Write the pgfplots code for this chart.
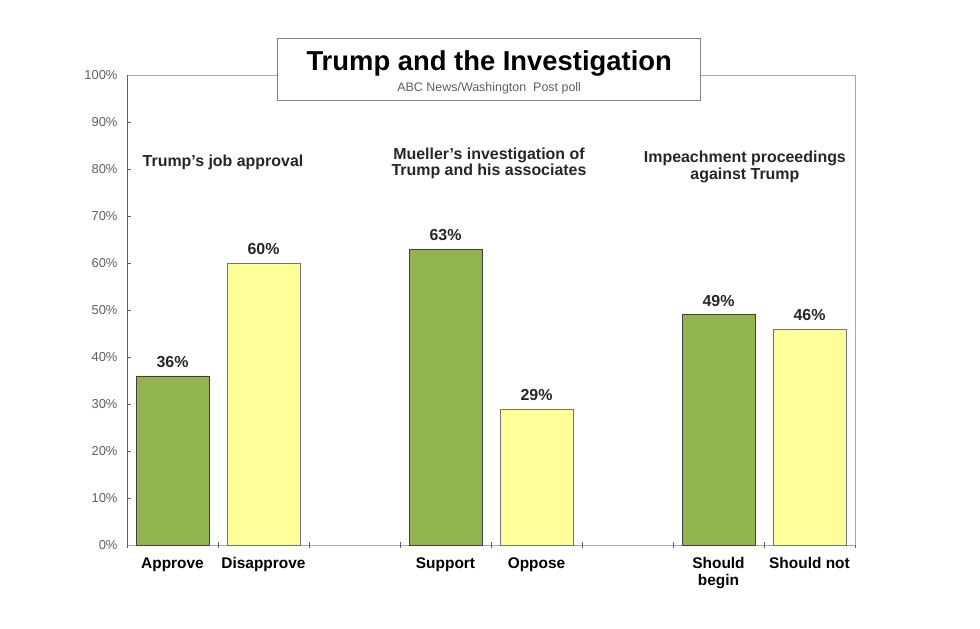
\documentclass[border=0pt]{standalone}
\usepackage{pgfplots}
\pgfplotsset{compat=1.18}
\usepackage{fontspec}
\setmainfont{Liberation Sans}
\definecolor{barGreen}{RGB}{146,180,80}
\definecolor{barYellow}{RGB}{255,255,153}
\definecolor{tickGray}{RGB}{95,95,95}
\begin{document}
\begin{tikzpicture}
\path[use as bounding box] (-127bp,-84bp) rectangle (853bp,545bp);
\begin{axis}[
    at={(0,0)}, anchor=south west,
    scale only axis,
    width=728bp, height=470bp,
    xmin=-0.5, xmax=7.5,
    ymin=0, ymax=100,
    ybar, bar width=0.8, bar shift=0pt,
    axis line style={draw=gray!70},
    axis y line*=left,
    axis x line*=bottom,
    clip=false,
    ytick={0,10,...,100},
    yticklabel={\pgfmathprintnumber{\tick}\%},
    yticklabel style={font=\fontsize{13}{15}\selectfont, text=tickGray, xshift=-6bp},
    /pgf/number format/assume math mode=true,
    y tick style={draw=tickGray},
    major tick length=4bp,
    xtick={0,1,3,4,6,7},
    xticklabels={Approve,Disapprove,Support,Oppose,Should\\begin,Should not},
    xticklabel style={font=\bfseries\fontsize{15.5}{16.5}\selectfont, align=center, yshift=-5bp},
    x tick style={draw=none},
    extra x ticks={-0.5,0.5,...,7.5},
    extra x tick labels={},
    extra x tick style={x tick style={draw=tickGray}, major tick length=6bp, tick align=center},
    nodes near coords={\pgfmathprintnumber{\pgfplotspointmeta}\%},
    every node near coord/.append style={font=\bfseries\fontsize{16}{17}\selectfont, text=black!85, yshift=5bp},
]
\draw[gray!70] (rel axis cs:0,1) -- (rel axis cs:1,1) -- (rel axis cs:1,0);
\draw[tickGray] (rel axis cs:0,0) -- (rel axis cs:0,1);
\addplot[fill=barGreen, draw=black!75] coordinates {(0,36) (3,63) (6,49)};
\addplot[fill=barYellow, draw=black!55] coordinates {(1,60) (4,29) (7,46)};
\node[draw=gray, fill=white, minimum width=423bp, minimum height=62bp, inner sep=0pt] at (axis cs:3.48,101.3) {};
\node[font=\bfseries\fontsize{27.5}{30}\selectfont] at (axis cs:3.48,102.4) {Trump and the Investigation};
\node[font=\fontsize{12.5}{14}\selectfont, text=tickGray] at (axis cs:3.48,97.2) {ABC News/Washington\ \ Post poll};
\node[font=\bfseries\fontsize{16}{17}\selectfont, align=center, text=black!85] at (axis cs:0.555,81.5) {Trump's job approval};
\node[font=\bfseries\fontsize{16}{17}\selectfont, align=center, text=black!85] at (axis cs:3.478,81.2) {Mueller's investigation of\\Trump and his associates};
\node[font=\bfseries\fontsize{16}{17}\selectfont, align=center, text=black!85] at (axis cs:6.29,80.5) {Impeachment proceedings\\against Trump};
\end{axis}
\end{tikzpicture}
\end{document}
